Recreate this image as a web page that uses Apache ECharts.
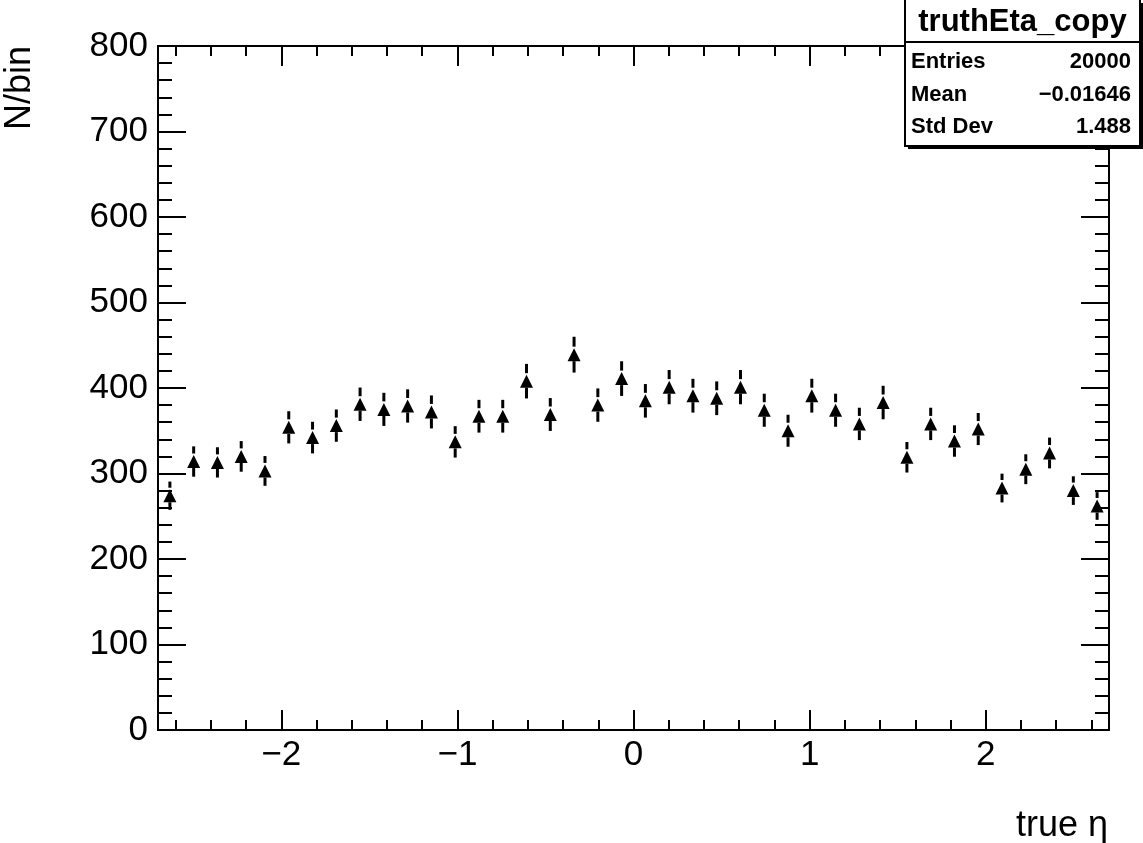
<!DOCTYPE html>
<html>
<head>
<meta charset="utf-8">
<title>truthEta_copy</title>
<script src="https://cdn.jsdelivr.net/npm/echarts@6/dist/echarts.min.js"></script>
<style>
  html, body { margin: 0; padding: 0; background: #ffffff; }
  #chart { width: 1143px; height: 843px; }
</style>
</head>
<body>
<div id="chart"></div>
<script>
// Histogram binning: 40 equal bins over [-2.7, 2.7]
const binLow = -2.7;
const binHigh = 2.7;
const binWidth = 0.135;

// Entries per bin (N/bin)
const counts = [
  274, 314, 313, 320, 303, 354, 342, 356, 381, 375,
  379, 372, 337, 367, 367, 408, 369, 439, 380, 411,
  385, 401, 391, 388, 401, 374, 350, 391, 374, 358,
  383, 319, 358, 338, 352, 283, 305, 324, 280, 262
];

// Axis ticks
const xMajorTicks = [-2, -1, 0, 1, 2];
const xMinorTicks = [-2.6, -2.4, -2.2, -1.8, -1.6, -1.4, -1.2, -0.8, -0.6, -0.4, -0.2,
                     0.2, 0.4, 0.6, 0.8, 1.2, 1.4, 1.6, 1.8, 2.2, 2.4, 2.6];
const yMin = 0, yMax = 800, yStep = 100;

// Statistics box
const statTitle = 'truthEta_copy';
const statLabels = ['Entries', 'Mean', 'Std Dev'];
const statValues = ['20000', '\u22120.01646', '1.488'];

const FONT = '"Liberation Sans", Arial, Helvetica, sans-serif';

const points = counts.map((n, i) => [binLow + (i + 0.5) * binWidth, n]);

const chart = echarts.init(document.getElementById('chart'), null, { renderer: 'canvas' });

const axisLine = { show: true, onZero: false, lineStyle: { color: '#000', width: 2 } };

function xAxisDef(position, ticks, len, labels) {
  return {
    type: 'value', position: position, min: binLow, max: binHigh,
    axisLine: axisLine,
    splitLine: { show: false },
    axisTick: { show: true, inside: true, length: len, customValues: ticks,
                lineStyle: { color: '#000', width: 2 } },
    axisLabel: labels ? {
      show: true, customValues: xMajorTicks, margin: 8,
      fontFamily: FONT, fontSize: 35, color: '#000',
      formatter: v => String(v).replace('-', '\u2212')
    } : { show: false }
  };
}

function yAxisDef(position, labels) {
  return {
    type: 'value', position: position, min: yMin, max: yMax, interval: yStep,
    axisLine: axisLine,
    splitLine: { show: false },
    axisTick: { show: true, inside: true, length: 28, lineStyle: { color: '#000', width: 2 } },
    minorTick: { show: true, splitNumber: 5, length: 14, lineStyle: { color: '#000', width: 2 } },
    minorSplitLine: { show: false },
    axisLabel: labels ? { show: true, margin: 10, fontFamily: FONT, fontSize: 35, color: '#000' }
                      : { show: false }
  };
}

// Error bar + full up-triangle marker for each bin
function renderPoint(params, api) {
  const x = api.value(0);
  const n = api.value(1);
  const err = Math.sqrt(n);
  const c = api.coord([x, n]);
  const top = api.coord([x, n + err]);
  const bot = api.coord([x, n - err]);
  const h = 6.5;
  const style = { stroke: '#000', lineWidth: 3 };
  return {
    type: 'group',
    children: [
      { type: 'line', shape: { x1: c[0], y1: top[1], x2: c[0], y2: c[1] - h - 1.5 }, style: style },
      { type: 'line', shape: { x1: c[0], y1: c[1] + h, x2: c[0], y2: bot[1] }, style: style },
      { type: 'polygon',
        shape: { points: [[c[0], c[1] - h], [c[0] + h, c[1] + h], [c[0] - h, c[1] + h]] },
        style: { fill: '#000' } }
    ]
  };
}

const boxL = 905, boxR = 1140, boxT = 0, boxB = 146, headB = 42;

const option = {
  backgroundColor: '#ffffff',
  animation: false,
  grid: { left: 158, top: 46, width: 951, height: 684, containLabel: false },
  xAxis: [
    xAxisDef('bottom', xMajorTicks, 20, true),
    xAxisDef('bottom', xMinorTicks, 10, false),
    xAxisDef('top', xMajorTicks, 20, false),
    xAxisDef('top', xMinorTicks, 10, false)
  ],
  yAxis: [
    yAxisDef('left', true),
    yAxisDef('right', false)
  ],
  series: [{
    type: 'custom',
    xAxisIndex: 0, yAxisIndex: 0,
    data: points,
    renderItem: renderPoint,
    z: 5
  }],
  graphic: [
    { type: 'text', x: 20, y: 46, rotation: Math.PI / 2,
      style: { text: 'N/bin', fontFamily: FONT, fontSize: 36, fill: '#000',
               align: 'right', verticalAlign: 'middle' } },
    { type: 'text', x: 1108, y: 826,
      style: { text: 'true \u03b7', fontFamily: FONT, fontSize: 36, fill: '#000',
               align: 'right', verticalAlign: 'middle' } },
    // stat box shadow, frame and header
    { type: 'rect', z: 100, shape: { x: boxL + 3, y: boxT + 3, width: boxR - boxL, height: boxB - boxT },
      style: { fill: '#000' } },
    { type: 'rect', z: 101, shape: { x: boxL, y: boxT - 2, width: boxR - boxL, height: boxB - boxT + 2 },
      style: { fill: '#fff', stroke: '#000', lineWidth: 2 } },
    { type: 'line', z: 102, shape: { x1: boxL, y1: headB, x2: boxR, y2: headB },
      style: { stroke: '#000', lineWidth: 2 } },
    { type: 'text', z: 103, x: (boxL + boxR) / 2, y: 22,
      style: { text: statTitle, fontFamily: FONT, fontWeight: 'bold', fontSize: 31, fill: '#000',
               align: 'center', verticalAlign: 'middle' } }
  ].concat(statLabels.map((lab, i) => ({
    type: 'text', z: 103, x: 911, y: 62 + i * 32.5,
    style: { text: lab, fontFamily: FONT, fontWeight: 'bold', fontSize: 22, fill: '#000',
             align: 'left', verticalAlign: 'middle' }
  }))).concat(statValues.map((val, i) => ({
    type: 'text', z: 103, x: 1131, y: 62 + i * 32.5,
    style: { text: val, fontFamily: FONT, fontWeight: 'bold', fontSize: 22, fill: '#000',
             align: 'right', verticalAlign: 'middle' }
  })))
};

chart.setOption(option);
</script>
</body>
</html>
